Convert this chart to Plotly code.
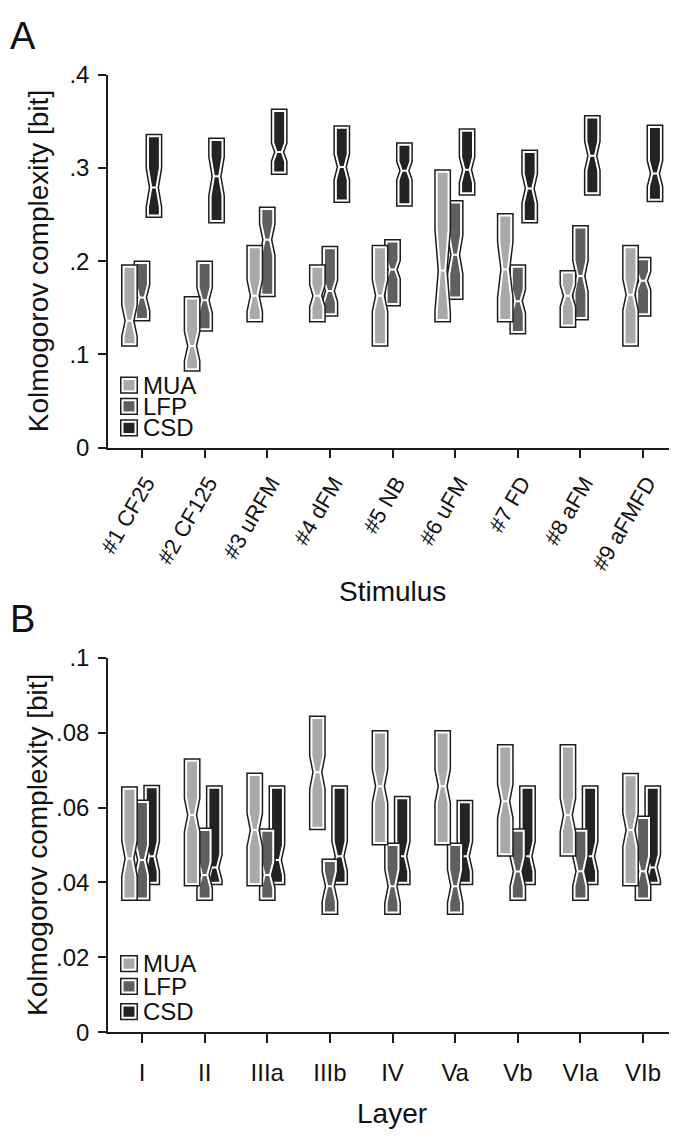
import plotly.graph_objects as go

# ---------------- data ----------------
stimuli = ["#1 CF25", "#2 CF125", "#3 uRFM", "#4 dFM", "#5 NB", "#6 uFM", "#7 FD", "#8 aFM", "#9 aFMFD"]
layers = ["I", "II", "IIIa", "IIIb", "IV", "Va", "Vb", "VIa", "VIb"]
series = ["MUA", "LFP", "CSD"]

# Panel A (stimulus)
A_mua_q1 = [0.111, 0.084, 0.137, 0.137, 0.111, 0.137, 0.137, 0.131, 0.111]
A_mua_med = [0.136, 0.109, 0.163, 0.163, 0.163, 0.190, 0.191, 0.163, 0.164]
A_mua_q3 = [0.194, 0.160, 0.215, 0.194, 0.215, 0.296, 0.249, 0.188, 0.215]
A_mua_ns = [0.017, 0.016, 0.017, 0.012, 0.017, 0.044, 0.030, 0.012, 0.017]

A_lfp_q1 = [0.138, 0.127, 0.164, 0.143, 0.154, 0.161, 0.124, 0.139, 0.143]
A_lfp_med = [0.161, 0.158, 0.223, 0.168, 0.191, 0.207, 0.157, 0.184, 0.179]
A_lfp_q3 = [0.198, 0.198, 0.256, 0.214, 0.221, 0.263, 0.194, 0.236, 0.202]
A_lfp_ns = [0.014, 0.014, 0.017, 0.012, 0.010, 0.021, 0.013, 0.017, 0.010]

A_csd_q1 = [0.249, 0.243, 0.295, 0.265, 0.261, 0.273, 0.243, 0.273, 0.266]
A_csd_med = [0.279, 0.291, 0.317, 0.301, 0.297, 0.298, 0.278, 0.313, 0.294]
A_csd_q3 = [0.334, 0.330, 0.361, 0.343, 0.325, 0.340, 0.317, 0.354, 0.344]
A_csd_ns = [0.021, 0.021, 0.010, 0.014, 0.010, 0.014, 0.016, 0.016, 0.014]

# Panel B (layer)
B_mua_q1 = [0.0357, 0.0396, 0.0396, 0.0546, 0.0505, 0.0505, 0.0475, 0.0475, 0.0396]
B_mua_med = [0.0464, 0.0580, 0.0540, 0.0694, 0.0657, 0.0657, 0.0617, 0.0580, 0.0540]
B_mua_q3 = [0.0650, 0.0725, 0.0687, 0.0839, 0.0800, 0.0800, 0.0763, 0.0763, 0.0686]
B_mua_ns = [0.0048, 0.0045, 0.0045, 0.0045, 0.0045, 0.0045, 0.0045, 0.0045, 0.0045]

B_lfp_q1 = [0.0357, 0.0357, 0.0357, 0.0320, 0.0320, 0.0320, 0.0357, 0.0357, 0.0357]
B_lfp_med = [0.0460, 0.0420, 0.0420, 0.0390, 0.0390, 0.0390, 0.0429, 0.0430, 0.0430]
B_lfp_q3 = [0.0615, 0.0540, 0.0538, 0.0457, 0.0500, 0.0500, 0.0538, 0.0538, 0.0572]
B_lfp_ns = [0.0040, 0.0035, 0.0035, 0.0040, 0.0045, 0.0045, 0.0040, 0.0040, 0.0040]

B_csd_q1 = [0.0399, 0.0399, 0.0399, 0.0399, 0.0399, 0.0399, 0.0399, 0.0399, 0.0399]
B_csd_med = [0.0470, 0.0440, 0.0460, 0.0470, 0.0470, 0.0470, 0.0470, 0.0470, 0.0440]
B_csd_q3 = [0.0654, 0.0653, 0.0653, 0.0653, 0.0625, 0.0614, 0.0653, 0.0653, 0.0653]
B_csd_ns = [0.0040, 0.0035, 0.0040, 0.0040, 0.0040, 0.0040, 0.0040, 0.0040, 0.0035]

A_yticks = [0, 0.1, 0.2, 0.3, 0.4]
A_yticktext = ["0", ".1", ".2", ".3", ".4"]
B_yticks = [0, 0.02, 0.04, 0.06, 0.08, 0.1]
B_yticktext = ["0", ".02", ".04", ".06", ".08", ".1"]

# ---------------- style ----------------
PAGE = 8  # default body margin of the html page
W, H = 677 - PAGE, 1146 - PAGE
L, R = 108 - PAGE, 2
FONT = "Liberation Sans, Arial, sans-serif"
INK = "#1c1c1c"
fills = {"MUA": "#a9a9a9", "LFP": "#5f5f5f", "CSD": "#232323"}
offsets_A = {"MUA": -0.20, "LFP": 0.0, "CSD": 0.19}
offsets_B = {"MUA": -0.20, "LFP": 0.0, "CSD": 0.155}
BOXW = 0.19


def pxx(px):  # screen pixel -> paper x
    return (px - PAGE - L) / (W - L - R)


def pxy(py):  # screen pixel -> paper y
    return (H - (py - PAGE)) / H


fig = go.Figure()

panelA = {"MUA": (A_mua_q1, A_mua_med, A_mua_q3, A_mua_ns),
          "LFP": (A_lfp_q1, A_lfp_med, A_lfp_q3, A_lfp_ns),
          "CSD": (A_csd_q1, A_csd_med, A_csd_q3, A_csd_ns)}
panelB = {"MUA": (B_mua_q1, B_mua_med, B_mua_q3, B_mua_ns),
          "LFP": (B_lfp_q1, B_lfp_med, B_lfp_q3, B_lfp_ns),
          "CSD": (B_csd_q1, B_csd_med, B_csd_q3, B_csd_ns)}


def add_boxes(panel, offsets, xa, ya):
    for s in ["CSD", "LFP", "MUA"]:  # drawing order: MUA on top
        q1, med, q3, ns = panel[s]
        xs = [i + offsets[s] for i in range(len(q1))]
        for lw, lc, fc in [(5.0, INK, "white"), (2.0, "white", fills[s])]:
            fig.add_trace(go.Box(
                x=xs, q1=q1, median=med, q3=q3,
                lowerfence=q1, upperfence=q3, notchspan=ns,
                notched=True, notchwidth=0.28, width=BOXW, whiskerwidth=0,
                boxpoints=False, fillcolor=fc,
                line=dict(color=lc, width=lw),
                xaxis=xa, yaxis=ya, showlegend=False, hoverinfo="skip",
                name=s,
            ))


add_boxes(panelA, offsets_A, "x", "y")
add_boxes(panelB, offsets_B, "x2", "y2")

axis_common = dict(showgrid=False, zeroline=False, showline=True, linecolor=INK,
                   linewidth=1.5, ticks="outside", tickcolor=INK, tickwidth=1.5)
tick24 = dict(family=FONT, size=24, color="#111")

yA = [pxy(444), pxy(62)]
yB = [pxy(1043), pxy(659)]
xr = [-0.543, 8.51]

fig.update_layout(
    width=W, height=H,
    margin=dict(l=L, r=R, t=0, b=0),
    paper_bgcolor="white", plot_bgcolor="white",
    boxmode="overlay",
    font=dict(family=FONT, color="#111"),
    xaxis=dict(domain=[0, 1], range=xr, anchor="y", tickvals=list(range(9)),
               ticktext=stimuli, tickangle=-60, ticklen=9,
               ticklabelshift=4, ticklabelstandoff=3,
               tickfont=dict(family=FONT, size=22, color="#111"), **axis_common),
    yaxis=dict(domain=yA, range=[0, 0.4], anchor="x", tickvals=A_yticks,
               ticktext=A_yticktext, ticklen=8, ticklabelstandoff=4,
               tickfont=tick24, **axis_common),
    xaxis2=dict(domain=[0, 1], range=xr, anchor="y2", tickvals=list(range(9)),
                ticktext=layers, ticklen=9, ticklabelstandoff=9,
                tickfont=tick24, **axis_common),
    yaxis2=dict(domain=yB, range=[0, 0.1], anchor="x2", tickvals=B_yticks,
                ticktext=B_yticktext, ticklen=8, ticklabelstandoff=4,
                tickfont=tick24, **axis_common),
)

ann = []
shapes = []
# panel letters
for letter, yc in [("A", 22), ("B", 620)]:
    ann.append(dict(text=letter, x=pxx(8), y=pxy(yc), xref="paper", yref="paper",
                    xanchor="left", yanchor="middle", showarrow=False,
                    font=dict(family=FONT, size=38, color="#111")))
# axis titles
for yc in [253, 851]:
    ann.append(dict(text="Kolmogorov complexity [bit]", x=pxx(38), y=pxy(yc),
                    xref="paper", yref="paper", xanchor="center", yanchor="middle",
                    textangle=-90, showarrow=False,
                    font=dict(family=FONT, size=28, color="#111")))
ann.append(dict(text="Stimulus", x=pxx(392), y=pxy(591), xref="paper", yref="paper",
                xanchor="center", yanchor="middle", showarrow=False,
                font=dict(family=FONT, size=28, color="#111")))
ann.append(dict(text="Layer", x=pxx(392), y=pxy(1126), xref="paper", yref="paper",
                xanchor="center", yanchor="middle", showarrow=False,
                font=dict(family=FONT, size=28, color="#111")))

# manual legends
for centers in [[380, 401.7, 423.8], [972.5, 995.8, 1021.7]]:
    for s, cy in zip(series, centers):
        half = 8.75
        shapes.append(dict(type="rect", xref="paper", yref="paper",
                           x0=pxx(120.75), x1=pxx(137.25),
                           y0=pxy(cy + half - 0.75), y1=pxy(cy - half + 0.75),
                           line=dict(color=INK, width=1.5), fillcolor="white"))
        shapes.append(dict(type="rect", xref="paper", yref="paper",
                           x0=pxx(123.5), x1=pxx(134.5),
                           y0=pxy(cy + half - 3.5), y1=pxy(cy - half + 3.5),
                           line=dict(width=0), fillcolor=fills[s]))
        ann.append(dict(text=s, x=pxx(141), y=pxy(cy), xref="paper", yref="paper",
                        xanchor="left", yanchor="middle", showarrow=False,
                        font=dict(family=FONT, size=24, color="#111")))

fig.update_layout(annotations=ann, shapes=shapes)
fig.write_html("out.html")
